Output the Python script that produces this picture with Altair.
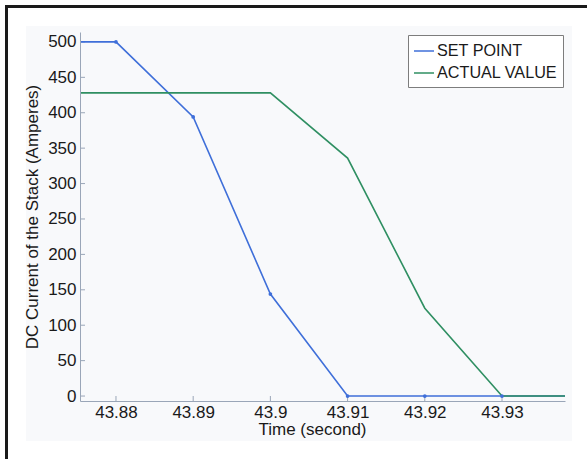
import altair as alt
import pandas as pd

# Data
time_sp = [43.87534, 43.88, 43.89, 43.90, 43.91, 43.92, 43.93, 43.93816]
val_sp = [500, 500, 394, 144, 0, 0, 0, 0]
marker_time = [43.88, 43.89, 43.90, 43.91, 43.92, 43.93]
marker_val = [500, 394, 144, 0, 0, 0]
time_av = [43.87534, 43.90, 43.91, 43.92, 43.93, 43.93816]
val_av = [428, 428, 336, 124, 0, 0]
x_ticks = [43.88, 43.89, 43.90, 43.91, 43.92, 43.93]
y_ticks = [0, 50, 100, 150, 200, 250, 300, 350, 400, 450, 500]
series = ["SET POINT", "ACTUAL VALUE"]
colors = ["#3f6fd9", "#2f8f62"]

W, H = 485, 369
FONT = "Liberation Sans"

lines_df = pd.DataFrame(
    {"t": time_sp + time_av,
     "v": val_sp + val_av,
     "s": [series[0]] * len(time_sp) + [series[1]] * len(time_av)}
)
markers_df = pd.DataFrame({"t": marker_time, "v": marker_val, "s": series[0]})
xt_df = pd.DataFrame({"t": x_ticks})
yt_df = pd.DataFrame({"v": y_ticks})

xscale = alt.Scale(domain=[43.87534, 43.93816], nice=False, zero=False)
yscale = alt.Scale(domain=[-7, 514], nice=False, zero=False)
color = alt.Color(
    "s:N",
    scale=alt.Scale(domain=series, range=colors),
    legend=alt.Legend(
        title=None, orient="none", legendX=328, legendY=3,
        symbolType="stroke", symbolSize=400, symbolStrokeWidth=1.5,
        labelFont=FONT, labelFontSize=16.2, labelColor="#1a1a1a",
        strokeColor="#7d7d7d", fillColor="#ffffff", padding=5,
        rowPadding=2, labelOffset=2, labelLimit=300,
    ),
)

xaxis = alt.Axis(
    values=x_ticks, labelExpr="format(datum.value, '.4~f')",
    title="Time (second)", grid=False, tickSize=0, labelPadding=3,
    titlePadding=1, titleX=232, domainColor="#9aa6b8", zindex=1,
    labelOverlap=False, labelFlush=False,
)
yaxis = alt.Axis(
    values=y_ticks, title="DC Current of the Stack (Amperes)", grid=False,
    tickSize=0, labelPadding=4, titlePadding=6, domainColor="#9aa6b8", zindex=1,
    labelOverlap=False, labelFlush=False,
)

X = alt.X("t:Q", scale=xscale, axis=xaxis, title="Time (second)")
Y = alt.Y("v:Q", scale=yscale, axis=yaxis, title="DC Current of the Stack (Amperes)")

# Decorative figure panel and frame (outside the plot area)
deco_df = pd.DataFrame({"k": [0]})
panel = alt.Chart(deco_df).mark_rect(color="#f8f9fb", clip=False).encode(
    x=alt.value(-54), x2=alt.value(492), y=alt.value(-6), y2=alt.value(409)
)
frame_left = alt.Chart(deco_df).mark_rect(color="#1a1a1a", clip=False).encode(
    x=alt.value(-75), x2=alt.value(-72), y=alt.value(-27), y2=alt.value(430)
)
frame_top = alt.Chart(deco_df).mark_rect(color="#1a1a1a", clip=False).encode(
    x=alt.value(-75), x2=alt.value(507), y=alt.value(-27), y2=alt.value(-24)
)

xticks = alt.Chart(xt_df).mark_rule(color="#9aa6b8").encode(
    x=X, y=alt.value(H), y2=alt.value(H - 5)
)
yticks = alt.Chart(yt_df).mark_rule(color="#9aa6b8").encode(
    y=Y, x=alt.value(0), x2=alt.value(5)
)
lines = alt.Chart(lines_df).mark_line(strokeWidth=1.6).encode(
    x=X, y=Y, color=color,
    order=alt.Order("s:N", sort="descending"),
)
markers = alt.Chart(markers_df).mark_point(filled=True, size=14, opacity=1).encode(
    x=X, y=Y, color=alt.value(colors[0]),
)

chart = (
    alt.layer(panel, frame_left, frame_top, xticks, yticks, lines, markers)
    .properties(
        width=W, height=H,
        autosize=alt.AutoSizeParams(type="none"),
        padding={"left": 80, "top": 32, "right": 22, "bottom": 58},
        background="#ffffff",
    )
    .configure_view(strokeWidth=0)
    .configure_axis(
        labelFont=FONT, labelFontSize=17, labelColor="#1a1a1a",
        titleFont=FONT, titleFontSize=17, titleColor="#1a1a1a",
        titleFontWeight="normal",
    )
)

chart.save("out.html", embed_options={"renderer": "svg", "actions": False})
